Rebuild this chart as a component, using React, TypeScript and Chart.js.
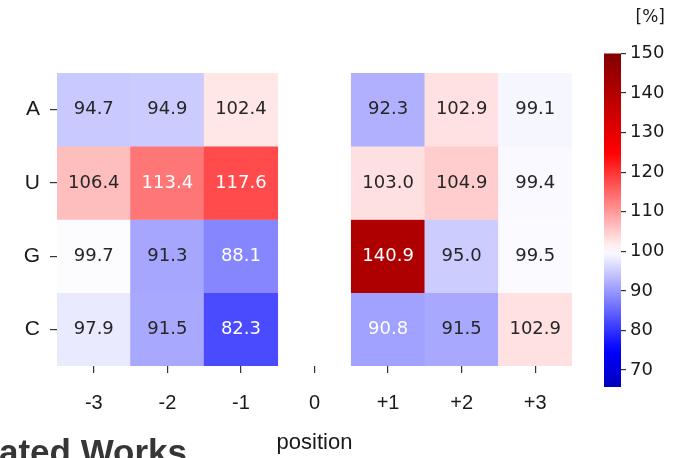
import React, { useEffect, useRef } from "react";
import { Chart, registerables } from "chart.js";

Chart.register(...registerables);

// ---- data ----
const positions = ["-3", "-2", "-1", "0", "+1", "+2", "+3"];
const bases = ["A", "U", "G", "C"];
const rowA = [94.7, 94.9, 102.4, null, 92.3, 102.9, 99.1];
const rowU = [106.4, 113.4, 117.6, null, 103.0, 104.9, 99.4];
const rowG = [99.7, 91.3, 88.1, null, 140.9, 95.0, 99.5];
const rowC = [97.9, 91.5, 82.3, null, 90.8, 91.5, 102.9];
const rows = [rowA, rowU, rowG, rowC];
const colorbarTicks = [70, 80, 90, 100, 110, 120, 130, 140, 150];
const colorMin = 65.7;
const colorMax = 150;
const colorCenter = 100;
const unitLabel = "[%]";
const xTitle = "position";
const pageText = "ated Works";

// ---- seismic colormap (centered) ----
const seismicStops = [
  [0.0, 0.0, 0.3],
  [0.0, 0.0, 1.0],
  [1.0, 1.0, 1.0],
  [1.0, 0.0, 0.0],
  [0.5, 0.0, 0.0],
];
function seismicRGB(v: number): number[] {
  const range = Math.max(colorMax - colorCenter, colorCenter - colorMin);
  let t = (v - (colorCenter - range)) / (2 * range);
  t = Math.min(1, Math.max(0, t));
  const pos = t * 4;
  const i = Math.min(3, Math.floor(pos));
  const f = pos - i;
  const a = seismicStops[i];
  const b = seismicStops[i + 1];
  return [0, 1, 2].map((k) => a[k] + (b[k] - a[k]) * f);
}
function toCss(rgb: number[]) {
  return `rgb(${rgb.map((c) => Math.round(c * 255)).join(",")})`;
}
function cellColor(v: number | null) {
  if (v == null) return "rgba(0,0,0,0)";
  return toCss(seismicRGB(v));
}
function textColor(v: number) {
  const lin = seismicRGB(v).map((c) =>
    c <= 0.03928 ? c / 12.92 : Math.pow((c + 0.055) / 1.055, 2.4)
  );
  const lum = 0.2126 * lin[0] + 0.7152 * lin[1] + 0.0722 * lin[2];
  return lum > 0.408 ? "#262626" : "#ffffff";
}

const cellLabelPlugin = {
  id: "cellLabels",
  afterDatasetsDraw(chart: any) {
    const ctx = chart.ctx;
    ctx.save();
    ctx.font = "18px 'DejaVu Sans'";
    ctx.textAlign = "center";
    ctx.textBaseline = "middle";
    chart.data.datasets.forEach((ds: any, di: number) => {
      const meta = chart.getDatasetMeta(di);
      meta.data.forEach((el: any, i: number) => {
        const v = ds.values[i];
        if (v == null) return;
        const p = el.getProps(["x", "y", "base"], true);
        ctx.fillStyle = textColor(v);
        ctx.fillText(v.toFixed(1), p.x, (p.y + p.base) / 2);
      });
    });
    ctx.restore();
  },
};

export default function App() {
  const mainRef = useRef<HTMLCanvasElement>(null);
  const barRef = useRef<HTMLCanvasElement>(null);

  useEffect(() => {
    const main = new Chart(mainRef.current!, {
      type: "bar",
      data: {
        labels: positions,
        datasets: rows.map((vals, r) => ({
          label: bases[r],
          values: vals,
          data: vals.map((v) => (v == null ? null : [r, r + 1])),
          backgroundColor: vals.map((v) => cellColor(v)),
          borderWidth: 0,
          barPercentage: 1,
          categoryPercentage: 1,
          grouped: false,
        })) as any,
      },
      options: {
        responsive: false,
        animation: false,
        devicePixelRatio: 1,
        layout: { padding: { left: 0, top: 73, right: 105, bottom: 0 } },
        plugins: { legend: { display: false }, tooltip: { enabled: false } },
        scales: {
          x: {
            type: "category",
            grid: {
              offset: false,
              drawOnChartArea: false,
              drawTicks: true,
              tickLength: 7,
              color: "#333",
              lineWidth: 1.2,
            },
            border: { display: false },
            ticks: {
              font: { family: "'Liberation Sans'", size: 20 },
              color: "#1a1a1a",
              padding: 18,
              maxRotation: 0,
            },
            title: {
              display: true,
              text: xTitle,
              font: { family: "'Liberation Sans'", size: 22 },
              color: "#1a1a1a",
              padding: { top: 0, bottom: 2 },
            },
            afterFit: (scale: any) => {
              scale.height = 92;
            },
          } as any,
          y: {
            type: "linear",
            min: 0,
            max: bases.length,
            reverse: true,
            afterBuildTicks: (scale: any) => {
              scale.ticks = bases.map((_, i) => ({ value: i + 0.5 }));
            },
            ticks: {
              callback: (v: any) => bases[Math.floor(Number(v))],
              font: { family: "'Liberation Sans'", size: 21 },
              color: "#1a1a1a",
              padding: 10,
            },
            grid: {
              drawOnChartArea: false,
              drawTicks: true,
              tickLength: 7,
              color: "#333",
              lineWidth: 1.2,
            },
            border: { display: false },
            afterFit: (scale: any) => {
              scale.width = 57;
            },
          } as any,
        },
      },
      plugins: [cellLabelPlugin],
    });

    const bar = new Chart(barRef.current!, {
      type: "bar",
      data: {
        labels: [""],
        datasets: [
          {
            data: [[colorMin, colorMax]] as any,
            borderWidth: 0,
            barPercentage: 1,
            categoryPercentage: 1,
            backgroundColor: (c: any) => {
              const chart = c.chart;
              const ys = chart.scales && chart.scales.y;
              if (!chart.chartArea || !ys) return "#fff";
              const g = chart.ctx.createLinearGradient(
                0,
                ys.getPixelForValue(colorMin),
                0,
                ys.getPixelForValue(colorMax)
              );
              const n = 40;
              for (let k = 0; k <= n; k++) {
                const v = colorMin + ((colorMax - colorMin) * k) / n;
                g.addColorStop(k / n, cellColor(v));
              }
              return g;
            },
          },
        ],
      },
      options: {
        responsive: false,
        animation: false,
        devicePixelRatio: 1,
        layout: { padding: { left: 14, right: 12, top: 7, bottom: 71 } },
        plugins: {
          legend: { display: false },
          tooltip: { enabled: false },
          title: {
            display: true,
            text: unitLabel,
            align: "end",
            font: { family: "'DejaVu Sans'", size: 17, weight: "normal" },
            color: "#1a1a1a",
            padding: { top: 0, bottom: 26 },
          },
        },
        scales: {
          x: { display: false },
          y: {
            type: "linear",
            position: "right",
            min: colorMin,
            max: colorMax,
            afterBuildTicks: (scale: any) => {
              scale.ticks = colorbarTicks.map((v) => ({ value: v }));
            },
            ticks: {
              font: { family: "'DejaVu Sans'", size: 18 },
              color: "#1a1a1a",
              padding: 4,
            },
            grid: {
              drawOnChartArea: false,
              drawTicks: true,
              tickLength: 5,
              color: "#333",
              lineWidth: 1.2,
            },
            border: { display: false },
            afterFit: (scale: any) => {
              scale.width = 44;
            },
          } as any,
        },
      },
    });

    return () => {
      main.destroy();
      bar.destroy();
    };
  }, []);

  return (
    <div
      style={{
        position: "absolute",
        left: 0,
        top: 0,
        width: 677,
        height: 458,
        overflow: "hidden",
        background: "#fff",
      }}
    >
      <canvas
        ref={mainRef}
        width={677}
        height={458}
        style={{ position: "absolute", left: 0, top: 0, width: 677, height: 458 }}
      />
      <canvas
        ref={barRef}
        width={87}
        height={458}
        style={{ position: "absolute", left: 590, top: 0, width: 87, height: 458 }}
      />
      <div
        style={{
          position: "absolute",
          left: -1,
          top: 434,
          fontFamily: "'Liberation Sans', Arial, sans-serif",
          fontWeight: "bold",
          fontSize: 35,
          lineHeight: "35px",
          color: "#363636",
          whiteSpace: "nowrap",
        }}
      >
        {pageText}
      </div>
    </div>
  );
}
